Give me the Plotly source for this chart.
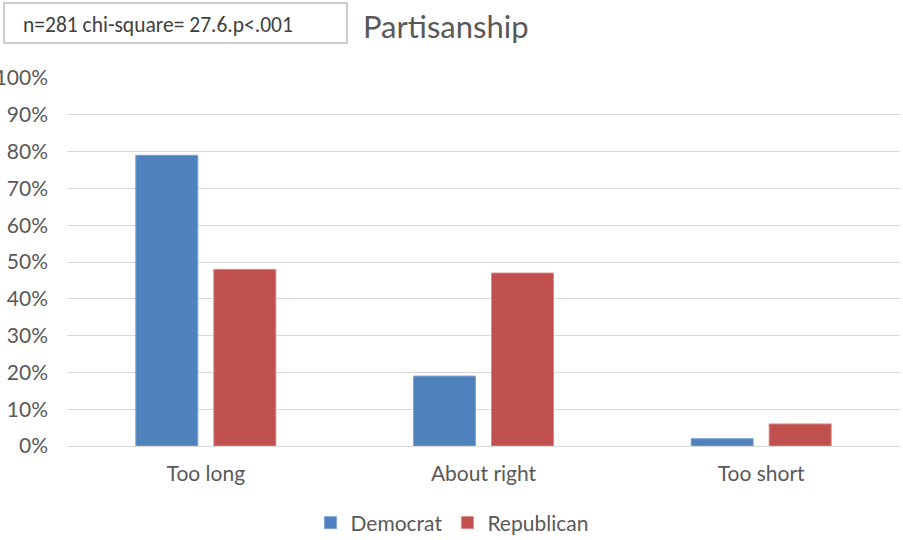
import plotly.graph_objects as go

categories = ["Too long", "About right", "Too short"]
democrat = [79, 19, 2]
republican = [48, 47, 6]
tick_vals = [0, 10, 20, 30, 40, 50, 60, 70, 80, 90, 100]
tick_text = [f"{v}%" for v in tick_vals]

TEXT = "#595959"
FONT = "Lato, 'DejaVu Sans', sans-serif"

fig = go.Figure()
fig.add_trace(go.Bar(name="Democrat", x=categories, y=democrat,
                     marker=dict(color="#4F81BD", line=dict(color="#7FA6D6", width=1))))
fig.add_trace(go.Bar(name="Republican", x=categories, y=republican,
                     marker=dict(color="#C0504D", line=dict(color="#D98A88", width=1))))

fig.update_layout(
    width=903, height=540,
    paper_bgcolor="white", plot_bgcolor="white",
    margin=dict(l=67, r=3, t=78, b=94, autoexpand=False),
    barmode="group", bargap=0.438, bargroupgap=0.205,
    font=dict(family=FONT, color=TEXT, size=21),
    showlegend=True,
    legend=dict(orientation="h", x=(452 - 67) / 833, xanchor="center",
                y=-77 / 368, yanchor="middle", entrywidth=0,
                font=dict(size=21, color=TEXT), traceorder="normal"),
    title=dict(text="Partisanship", x=363 / 903, xanchor="left", y=1 - 27 / 540, yanchor="middle",
               font=dict(size=31, color=TEXT, family=FONT)),
    xaxis=dict(showline=True, linecolor="#D9D9D9", linewidth=1, ticks="",
               tickfont=dict(size=21, color=TEXT), automargin=False, ticklabelstandoff=9),
    yaxis=dict(range=[0, 100], tickvals=tick_vals, ticktext=tick_text,
               showgrid=True, gridcolor="#D9D9D9", gridwidth=1, zeroline=False,
               tickfont=dict(size=21, color=TEXT), automargin=False, ticklabelstandoff=18),
    shapes=[dict(type="rect", xref="paper", yref="paper", layer="above",
                 x0=-63 / 833, x1=280 / 833, y0=1 + 35 / 368, y1=1 + 75 / 368,
                 line=dict(color="#BFBFBF", width=1.5), fillcolor="white")],
    annotations=[dict(text="n=281 chi-square= 27.6.p<.001", xref="paper", yref="paper",
                      x=-46 / 833, y=1 + 53 / 368, xanchor="left", yanchor="middle",
                      showarrow=False, font=dict(size=21.5, color="#404040",
                                                 family="Carlito, 'Liberation Sans', sans-serif"))],
)

fig.write_html("out.html")
